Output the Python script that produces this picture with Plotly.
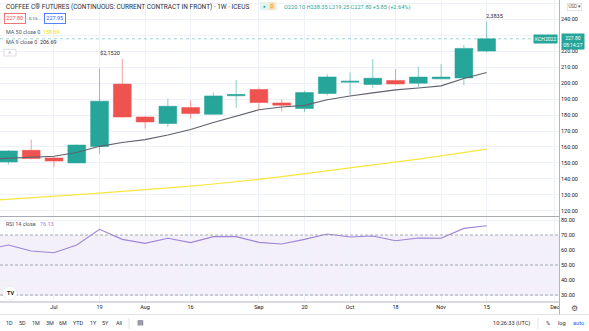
import plotly.graph_objects as go
from plotly.subplots import make_subplots

# Weekly bars, KC continuous (first entry sits just left of the visible range)
weeks = ["2021-06-14", "2021-06-21", "2021-06-28", "2021-07-05", "2021-07-12",
         "2021-07-19", "2021-07-26", "2021-08-02", "2021-08-09", "2021-08-16",
         "2021-08-23", "2021-08-30", "2021-09-06", "2021-09-13", "2021-09-20",
         "2021-09-27", "2021-10-04", "2021-10-11", "2021-10-18", "2021-10-25",
         "2021-11-01", "2021-11-08", "2021-11-15"]
opens = [156.0, 150.6, 157.9, 153.1, 150.0, 160.3, 199.4, 178.8, 174.7, 184.7,
         180.5, 192.1, 196.0, 187.6, 184.1, 193.5, 200.6, 199.2, 201.7, 200.0,
         202.7, 203.3, 220.10]
highs = [158.5, 158.0, 164.6, 154.1, 161.5, 209.2, 215.20, 179.2, 190.4, 189.3,
         194.1, 201.9, 197.3, 189.7, 195.2, 205.5, 206.7, 215.1, 208.8, 210.2,
         211.9, 223.9, 238.35]
lows = [148.5, 149.1, 152.3, 147.4, 149.9, 155.8, 178.5, 171.5, 172.5, 177.8,
        180.2, 184.5, 183.0, 182.4, 182.0, 192.3, 192.4, 197.0, 198.7, 197.7,
        202.5, 198.7, 219.25]
closes = [150.0, 157.5, 152.7, 151.2, 161.2, 188.7, 178.8, 175.7, 185.5, 181.0,
          192.0, 192.9, 187.9, 186.2, 194.1, 203.9, 201.2, 203.1, 199.5, 203.8,
          203.8, 221.8, 227.80]
ma9 = [152.3, 152.8, 153.4, 154.2, 156.5, 160.4, 162.8, 164.6, 167.5, 170.9,
       175.3, 179.3, 183.3, 185.1, 186.1, 189.6, 192.0, 193.9, 195.8, 197.0,
       198.3, 202.9, 206.69]
ma50 = [126.2, 127.1, 128.1, 129.0, 130.0, 131.1, 132.2, 133.2, 134.3, 135.5,
        136.8, 138.1, 139.7, 141.4, 143.2, 144.9, 146.7, 148.5, 150.4, 152.4,
        154.4, 156.4, 158.69]
rsi14 = [60.3, 63.3, 59.3, 58.2, 63.3, 73.8, 67.1, 64.4, 67.8, 64.9,
         68.9, 68.9, 65.1, 64.0, 67.1, 70.7, 68.7, 69.3, 66.2, 68.0,
         67.8, 74.4, 76.13]

tick_dates = ["2021-07-05", "2021-07-19", "2021-08-02", "2021-08-16", "2021-09-06",
              "2021-09-20", "2021-10-04", "2021-10-18", "2021-11-01", "2021-11-15",
              "2021-12-06"]
tick_labels = ["Jul", "19", "Aug", "16", "Sep", "20", "Oct", "18", "Nov", "15", "Dec"]
price_ticks = [120, 130, 140, 150, 160, 170, 180, 190, 200, 210, 220, 230, 240, 250]
# 230 sits under the last-price badge and 250 under the currency button
price_labels = ["120.00", "130.00", "140.00", "150.00", "160.00", "170.00", "180.00",
                "190.00", "200.00", "210.00", "220.00", "", "240.00", ""]
rsi_ticks = [30, 40, 50, 60, 70, 80]
range_periods = ["1D", "5D", "1M", "3M", "6M", "YTD", "1Y", "5Y", "All"]

FONT = "Roboto"
UP, DOWN = "#26a69a", "#ef5350"
GRID = "#eef1f7"
TEXT = "#131722"

W, H = 589, 331
PW, PH = 560, 302  # plot area in pixels


def fx(x):
    return x / PW


def fy(y):
    return (PH - y) / PH


fig = make_subplots(rows=2, cols=1, shared_xaxes=True, vertical_spacing=0.01)

fig.add_trace(go.Candlestick(
    x=weeks, open=opens, high=highs, low=lows, close=closes,
    increasing=dict(line=dict(color="rgba(38,166,154,0.55)", width=1), fillcolor=UP),
    decreasing=dict(line=dict(color="rgba(239,83,80,0.55)", width=1), fillcolor=DOWN),
    hoverinfo="skip", whiskerwidth=0,
), row=1, col=1)
fig.add_trace(go.Scatter(x=weeks, y=ma50, mode="lines",
                         line=dict(color="#f9e63f", width=1.2), hoverinfo="skip"),
              row=1, col=1)
fig.add_trace(go.Scatter(x=weeks, y=ma9, mode="lines",
                         line=dict(color="#5f626c", width=1.1), hoverinfo="skip"),
              row=1, col=1)
fig.add_trace(go.Scatter(x=weeks, y=rsi14, mode="lines",
                         line=dict(color="#9f84d8", width=1.1), hoverinfo="skip"),
              row=2, col=1)

x_range = ["2021-06-18 09:40", "2021-12-07 13:12"]
axis_font = dict(family=FONT, size=5.5, color=TEXT)

fig.update_xaxes(type="date", range=x_range, tickmode="array", tickvals=tick_dates,
                 showgrid=True, gridcolor=GRID, gridwidth=1, zeroline=False,
                 showline=False, ticks="", automargin=False,
                 rangeslider=dict(visible=False))
fig.update_xaxes(showticklabels=False, row=1, col=1)
fig.update_xaxes(showticklabels=True, ticktext=tick_labels, tickfont=axis_font,
                 row=2, col=1)

fig.update_yaxes(side="right", tickmode="array", tickformat=".2f", tickfont=axis_font,
                 showgrid=True, gridcolor=GRID, gridwidth=1, zeroline=False,
                 showline=False, ticks="", automargin=False)
fig.update_yaxes(range=[116.42, 252.13], tickvals=price_ticks, ticktext=price_labels,
                 domain=[fy(216.5), 1], row=1, col=1)
fig.update_yaxes(range=[25.33, 82], tickvals=rsi_ticks,
                 domain=[0, fy(217)], row=2, col=1)

shapes = []
# RSI band and levels
shapes.append(dict(type="rect", xref="paper", yref="y2", x0=0, x1=1, y0=30, y1=70,
                   fillcolor="rgba(126,87,194,0.09)", line=dict(width=0), layer="below"))
for lvl in (70, 50, 30):
    shapes.append(dict(type="line", xref="paper", yref="y2", x0=0, x1=1, y0=lvl, y1=lvl,
                       line=dict(color="#9598a1", width=0.8, dash="3px,2px")))
# last price line
shapes.append(dict(type="line", xref="paper", yref="y", x0=0, x1=1, y0=227.80, y1=227.80,
                   line=dict(color="rgba(38,166,154,0.45)", width=1, dash="dot")))
# pane frame lines
shapes.append(dict(type="line", xref="paper", yref="paper", x0=0, x1=1,
                   y0=fy(216.5), y1=fy(216.5), line=dict(color="#a9acb5", width=1.2)))
shapes.append(dict(type="line", xref="paper", yref="paper", x0=0, x1=1,
                   y0=fy(302), y1=fy(302), line=dict(color="#b2b5be", width=1)))
shapes.append(dict(type="line", xref="paper", yref="paper", x0=0, x1=W / PW,
                   y0=fy(314.5), y1=fy(314.5), line=dict(color="#e0e3eb", width=1)))
shapes.append(dict(type="line", xref="paper", yref="paper", x0=fx(559.5), x1=fx(559.5),
                   y0=fy(314.5), y1=1, line=dict(color="#b2b5be", width=1)))
# bottom toolbar separators
for sx in (129, 538):
    shapes.append(dict(type="line", xref="paper", yref="paper", x0=fx(sx), x1=fx(sx),
                       y0=fy(318), y1=fy(329), line=dict(color="#e0e3eb", width=1)))
# collapse button, status pill, logo disc
shapes.append(dict(type="rect", xref="paper", yref="paper", x0=fx(4), x1=fx(16),
                   y0=fy(49.3), y1=fy(56), fillcolor="white",
                   line=dict(color="#d1d4dc", width=0.8)))
shapes.append(dict(type="rect", xref="paper", yref="paper", x0=fx(260), x1=fx(276.7),
                   y0=fy(2.3), y1=fy(10.3), fillcolor="#e3f3f0", line=dict(width=0)))
shapes.append(dict(type="circle", xref="paper", yref="paper", x0=fx(3), x1=fx(17),
                   y0=fy(286), y1=fy(300), fillcolor="white",
                   line=dict(color="#e0e3eb", width=0.6)))
fig.update_layout(shapes=shapes)

ann = []


def label(x, y, text, size=5.5, color=TEXT, anchor="left", family=FONT, **kw):
    ann.append(dict(xref="paper", yref="paper", x=fx(x), y=fy(y), text=text,
                    showarrow=False, xanchor=anchor, yanchor="middle",
                    font=dict(family=family, size=size, color=color), **kw))


# legend / header block
label(4, 6.7, "COFFEE C® FUTURES (CONTINUOUS: CURRENT CONTRACT IN FRONT) · 1W · ICEUS",
      size=6.5, color="#2a2e39")
label(264.3, 6.3, "●", size=4.5, color=UP, anchor="center")
label(271.8, 6.3, "D", size=4.5, color="#ff9800", anchor="center",
      bgcolor="#ffd59e", borderpad=0.5)
label(281.5, 7, "O220.10 H238.35 L219.25 C227.80 +5.85 (+2.64%)", size=5.6, color=UP)
label(14.7, 18.8, "227.80", size=5.5, color=DOWN, anchor="center",
      bordercolor=DOWN, borderwidth=0.8, borderpad=1.5, bgcolor="white")
label(33, 18.8, "0.15", size=4.3, color="#50535e", anchor="center")
label(54.5, 18.8, "227.95", size=5.5, color="#2962ff", anchor="center",
      bordercolor="#2962ff", borderwidth=0.8, borderpad=1.5, bgcolor="white")
label(4, 31.7, "MA 50 close 0", size=5.4, color="#50535e")
label(40.5, 31.7, "158.69", size=5.4, color="#f5d90a")
label(4, 42.3, "MA 9 close 0", size=5.4, color="#50535e")
label(38.2, 42.3, "206.69", size=5.4, color="#2a2e39")
label(10, 52.8, "˄", size=6, color="#50535e", anchor="center")
label(4, 224.3, "RSI 14 close", size=5.4, color="#50535e")
label(37.8, 224.3, "76.13", size=5.4, color="#9f84d8")
label(10, 293, "<b>TV</b>", size=5.5, color=TEXT, anchor="center")

# right price scale badges
label(574.5, 6.5, "USD ▾", size=4.5, color="#50535e", anchor="center",
      bordercolor="#d1d4dc", borderwidth=0.6, borderpad=0.8, bgcolor="white")
label(545.5, 38.6, "KCH2022", size=5, color="white", anchor="center",
      bgcolor=UP, borderpad=1)
label(573, 41.6, "227.80<br>08:14:27", size=5, color="white", anchor="center",
      bgcolor=UP, borderpad=1.2, align="center")

# bottom bar
label(574, 308.3, "⚙", size=8, color="#50535e", anchor="center", family="DejaVu Sans")
period_x = [9.7, 22.8, 36, 49.5, 63, 78, 93.5, 105.5, 118.5]
for lab, xx in zip(range_periods, period_x):
    label(xx, 323.3, lab, size=5.4, color="#2a2e39", anchor="center")
label(140, 323.3, "▤", size=7, color="#50535e", anchor="center", family="DejaVu Sans")
label(511.7, 323.3, "10:26:33 (UTC)", size=5.6, color="#2a2e39", anchor="center")
label(548, 323.3, "%", size=5.6, color="#2a2e39", anchor="center")
label(561.7, 323.3, "log", size=5.6, color="#2a2e39", anchor="center")
label(578.5, 323.3, "auto", size=5.6, color="#2962ff", anchor="center")

# swing-high markers on the price pane
ann.append(dict(xref="x", yref="y", x=weeks[6], y=highs[6], text="$2,1520",
                showarrow=False, xanchor="right", yanchor="bottom", yshift=1,
                font=dict(family=FONT, size=5.6, color="#2a2e39")))
ann.append(dict(xref="x", yref="y", x=weeks[-1], y=highs[-1], text="2,3835",
                showarrow=False, xanchor="left", yanchor="bottom", xshift=-3, yshift=1,
                font=dict(family=FONT, size=5.6, color="#2a2e39")))

fig.update_layout(
    annotations=ann,
    width=W, height=H,
    margin=dict(l=0, r=W - PW, t=0, b=H - PH, pad=0),
    paper_bgcolor="white", plot_bgcolor="white",
    showlegend=False, hovermode=False,
    boxgap=0.22, boxgroupgap=0,
    font=dict(family=FONT, size=5.5, color=TEXT),
)

fig.write_html("out.html", config={"displayModeBar": False})
